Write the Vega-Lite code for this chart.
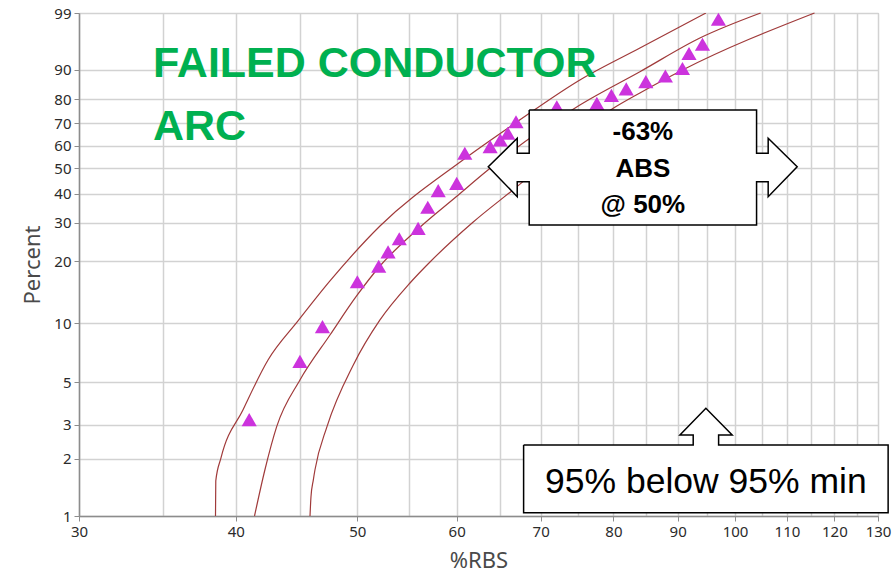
{
  "$schema": "https://vega.github.io/schema/vega-lite/v6.json",
  "width": 799,
  "height": 503,
  "autosize": {"type": "none"},
  "padding": {"left": 79, "top": 13, "right": 16, "bottom": 58},
  "background": "white",
  "config": {
    "view": {"stroke": "#BDBDBD", "strokeWidth": 1},
    "axis": {
      "labelFont": "Noto Sans",
      "labelFontSize": 15,
      "labelColor": "#2B2B2B",
      "titleFont": "Noto Sans",
      "titleFontWeight": "normal",
      "titleColor": "#4A4A4A",
      "domainColor": "#8C8C8C",
      "domainWidth": 1.5,
      "tickColor": "#8C8C8C",
      "tickSize": 5,
      "labelPadding": 3
    }
  },
  "encoding": {
    "x": {
      "field": "rbs",
      "type": "quantitative",
      "scale": {"type": "log", "domain": [30, 130], "nice": false},
      "axis": {
        "title": "%RBS",
        "titleFontSize": 22,
        "titleY": 51,
        "titleBaseline": "alphabetic",
        "values": [30, 35, 40, 45, 50, 55, 60, 65, 70, 75, 80, 85, 90, 95, 100, 105, 110, 115, 120, 125, 130],
        "labelExpr": "datum.value % 10 === 0 ? format(datum.value, 'd') : ''",
        "labelOverlap": false,
        "labelFlush": false,
        "tickOpacity": {"condition": {"test": "datum.value % 10 === 0", "value": 1}, "value": 0},
        "grid": true,
        "gridColor": "#D2D2D2",
        "gridOpacity": 1,
        "gridWidth": 1.5
      }
    },
    "y": {
      "field": "w",
      "type": "quantitative",
      "scale": {"domain": [-4.60015, 1.52718], "nice": false, "zero": false},
      "axis": {
        "title": "Percent",
        "titleFontSize": 22,
        "titleX": -40,
        "titleBaseline": "alphabetic",
        "values": [-4.60015, -3.90194, -3.49137, -2.97020, -2.25037, -1.49994, -1.03093, -0.67172, -0.36651, -0.08742, 0.18563, 0.47588, 0.83403, 1.52718],
        "labelExpr": "format(round(100 * (1 - exp(-exp(datum.value)))), 'd')",
        "labelOverlap": false,
        "labelFlush": false,
        "grid": true,
        "gridColor": "#D2D2D2",
        "gridOpacity": 1,
        "gridWidth": 1.5
      }
    }
  },
  "layer": [
    {
      "data": {"values": [
        {"curve": "upper", "rbs": 38.54, "pct": 1.0},
        {"curve": "upper", "rbs": 38.56, "pct": 1.53},
        {"curve": "upper", "rbs": 38.93, "pct": 2.02},
        {"curve": "upper", "rbs": 40.53, "pct": 3.59},
        {"curve": "upper", "rbs": 42.44, "pct": 6.50},
        {"curve": "upper", "rbs": 44.84, "pct": 10.25},
        {"curve": "upper", "rbs": 47.55, "pct": 16.14},
        {"curve": "upper", "rbs": 52.12, "pct": 29.10},
        {"curve": "upper", "rbs": 60.69, "pct": 53.63},
        {"curve": "upper", "rbs": 67.01, "pct": 70.50},
        {"curve": "upper", "rbs": 75.22, "pct": 86.95},
        {"curve": "upper", "rbs": 83.98, "pct": 95.05},
        {"curve": "upper", "rbs": 94.79, "pct": 99.0},
        {"curve": "fit", "rbs": 41.40, "pct": 1.0},
        {"curve": "fit", "rbs": 42.20, "pct": 1.75},
        {"curve": "fit", "rbs": 43.12, "pct": 2.94},
        {"curve": "fit", "rbs": 45.00, "pct": 5.13},
        {"curve": "fit", "rbs": 47.55, "pct": 8.71},
        {"curve": "fit", "rbs": 49.93, "pct": 13.64},
        {"curve": "fit", "rbs": 52.12, "pct": 19.04},
        {"curve": "fit", "rbs": 55.88, "pct": 28.22},
        {"curve": "fit", "rbs": 59.91, "pct": 38.71},
        {"curve": "fit", "rbs": 63.54, "pct": 49.36},
        {"curve": "fit", "rbs": 75.22, "pct": 77.73},
        {"curve": "fit", "rbs": 83.98, "pct": 89.49},
        {"curve": "fit", "rbs": 93.75, "pct": 96.65},
        {"curve": "fit", "rbs": 104.8, "pct": 99.0},
        {"curve": "lower", "rbs": 45.84, "pct": 1.0},
        {"curve": "lower", "rbs": 45.92, "pct": 1.26},
        {"curve": "lower", "rbs": 46.12, "pct": 1.55},
        {"curve": "lower", "rbs": 46.26, "pct": 1.75},
        {"curve": "lower", "rbs": 47.29, "pct": 2.94},
        {"curve": "lower", "rbs": 49.63, "pct": 6.13},
        {"curve": "lower", "rbs": 52.12, "pct": 10.37},
        {"curve": "lower", "rbs": 55.07, "pct": 15.78},
        {"curve": "lower", "rbs": 57.13, "pct": 19.89},
        {"curve": "lower", "rbs": 61.85, "pct": 30.31},
        {"curve": "lower", "rbs": 66.52, "pct": 41.33},
        {"curve": "lower", "rbs": 79.97, "pct": 76.37},
        {"curve": "lower", "rbs": 83.98, "pct": 82.42},
        {"curve": "lower", "rbs": 90.82, "pct": 89.97},
        {"curve": "lower", "rbs": 115.7, "pct": 99.0}
      ]},
      "transform": [{"calculate": "log(-log(1 - datum.pct / 100))", "as": "w"}],
      "mark": {"type": "line", "color": "#A03A3A", "strokeWidth": 1.2, "interpolate": "monotone"},
      "encoding": {"detail": {"field": "curve"}}
    },
    {
      "data": {"values": [
        {"rbs": 41.0, "pct": 3.2},
        {"rbs": 45.0, "pct": 6.4},
        {"rbs": 46.9, "pct": 9.6},
        {"rbs": 50.0, "pct": 16.0},
        {"rbs": 52.0, "pct": 19.0},
        {"rbs": 52.9, "pct": 22.2},
        {"rbs": 54.0, "pct": 25.5},
        {"rbs": 55.9, "pct": 28.4},
        {"rbs": 56.9, "pct": 35.1},
        {"rbs": 58.0, "pct": 41.1},
        {"rbs": 60.0, "pct": 43.9},
        {"rbs": 60.9, "pct": 56.6},
        {"rbs": 63.8, "pct": 59.5},
        {"rbs": 65.0, "pct": 62.5},
        {"rbs": 65.9, "pct": 65.5},
        {"rbs": 66.9, "pct": 70.6},
        {"rbs": 72.1, "pct": 77.0},
        {"rbs": 77.6, "pct": 78.4},
        {"rbs": 79.7, "pct": 81.5},
        {"rbs": 81.9, "pct": 83.9},
        {"rbs": 84.9, "pct": 86.4},
        {"rbs": 88.0, "pct": 88.2},
        {"rbs": 90.8, "pct": 90.4},
        {"rbs": 91.9, "pct": 94.0},
        {"rbs": 94.2, "pct": 95.7},
        {"rbs": 97.0, "pct": 98.6}
      ]},
      "transform": [{"calculate": "log(-log(1 - datum.pct / 100))", "as": "w"}],
      "mark": {"type": "point", "shape": "triangle-up", "filled": true, "size": 230, "color": "#CC33DD", "opacity": 1}
    },
    {
      "data": {"values": [
        {"label": "FAILED CONDUCTOR", "rbs": 34.36, "pct": 87.90},
        {"label": "ARC", "rbs": 34.36, "pct": 62.48}
      ]},
      "transform": [{"calculate": "log(-log(1 - datum.pct / 100))", "as": "w"}],
      "mark": {"type": "text", "align": "left", "baseline": "alphabetic", "font": "Liberation Sans", "fontWeight": "bold", "fontSize": 43, "color": "#00B050"},
      "encoding": {"text": {"field": "label"}}
    },
    {
      "data": {"values": [
        {"box": "a", "k": 0, "rbs": 68.54, "pct": 75.66},
        {"box": "a", "k": 1, "rbs": 68.54, "pct": 56.56},
        {"box": "a", "k": 2, "rbs": 67.05, "pct": 56.56},
        {"box": "a", "k": 3, "rbs": 67.05, "pct": 63.25},
        {"box": "a", "k": 4, "rbs": 63.58, "pct": 50.75},
        {"box": "a", "k": 5, "rbs": 67.05, "pct": 38.82},
        {"box": "a", "k": 6, "rbs": 67.05, "pct": 44.56},
        {"box": "a", "k": 7, "rbs": 68.54, "pct": 44.56},
        {"box": "a", "k": 8, "rbs": 68.54, "pct": 29.40},
        {"box": "a", "k": 9, "rbs": 104.03, "pct": 29.40},
        {"box": "a", "k": 10, "rbs": 104.03, "pct": 44.56},
        {"box": "a", "k": 11, "rbs": 106.27, "pct": 44.56},
        {"box": "a", "k": 12, "rbs": 106.27, "pct": 38.82},
        {"box": "a", "k": 13, "rbs": 112.08, "pct": 50.75},
        {"box": "a", "k": 14, "rbs": 106.27, "pct": 63.25},
        {"box": "a", "k": 15, "rbs": 106.27, "pct": 56.56},
        {"box": "a", "k": 16, "rbs": 104.03, "pct": 56.56},
        {"box": "a", "k": 17, "rbs": 104.03, "pct": 75.66},
        {"box": "a", "k": 18, "rbs": 68.54, "pct": 75.66},
        {"box": "b", "k": 0, "rbs": 67.84, "pct": 2.359},
        {"box": "b", "k": 1, "rbs": 92.61, "pct": 2.359},
        {"box": "b", "k": 2, "rbs": 92.61, "pct": 2.661},
        {"box": "b", "k": 3, "rbs": 90.38, "pct": 2.661},
        {"box": "b", "k": 4, "rbs": 94.79, "pct": 3.664},
        {"box": "b", "k": 5, "rbs": 99.48, "pct": 2.661},
        {"box": "b", "k": 6, "rbs": 97.03, "pct": 2.661},
        {"box": "b", "k": 7, "rbs": 97.03, "pct": 2.359},
        {"box": "b", "k": 8, "rbs": 132.44, "pct": 2.359},
        {"box": "b", "k": 9, "rbs": 132.44, "pct": 1.0411},
        {"box": "b", "k": 10, "rbs": 67.84, "pct": 1.0411},
        {"box": "b", "k": 11, "rbs": 67.84, "pct": 2.359}
      ]},
      "transform": [{"calculate": "log(-log(1 - datum.pct / 100))", "as": "w"}],
      "mark": {"type": "line", "fill": "white", "stroke": "black", "strokeWidth": 1.5, "strokeJoin": "miter", "interpolate": "linear"},
      "encoding": {"detail": {"field": "box"}, "order": {"field": "k"}}
    },
    {
      "data": {"values": [
        {"label": "-63%", "rbs": 84.44, "pct": 62.48},
        {"label": "ABS", "rbs": 84.44, "pct": 46.58},
        {"label": "@ 50%", "rbs": 84.44, "pct": 33.07}
      ]},
      "transform": [{"calculate": "log(-log(1 - datum.pct / 100))", "as": "w"}],
      "mark": {"type": "text", "align": "center", "baseline": "alphabetic", "font": "Liberation Sans", "fontWeight": "bold", "fontSize": 26, "color": "black"},
      "encoding": {"text": {"field": "label"}}
    },
    {
      "data": {"values": [
        {"label": "95% below 95% min", "rbs": 94.79, "pct": 1.3169}
      ]},
      "transform": [{"calculate": "log(-log(1 - datum.pct / 100))", "as": "w"}],
      "mark": {"type": "text", "align": "center", "baseline": "alphabetic", "font": "Liberation Sans", "fontSize": 35.5, "color": "black"},
      "encoding": {"text": {"field": "label"}}
    }
  ]
}
